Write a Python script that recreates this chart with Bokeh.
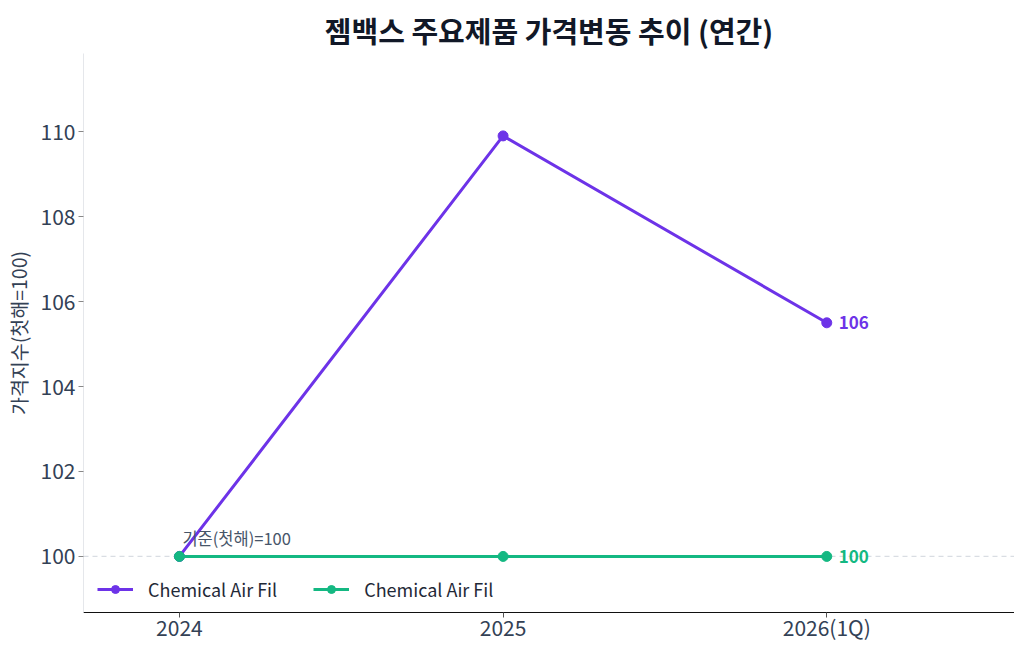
from bokeh.plotting import figure
from bokeh.models import Range1d, FixedTicker, Span, Label, Legend, LegendItem
from bokeh.embed import file_html
from bokeh.resources import INLINE

FONT = "Noto Sans CJK KR"

periods = ["2024", "2025", "2026(1Q)"]
x_pos = [0, 1, 2]
series_a_name = "Chemical Air Fil"
series_a = [100.0, 109.9, 105.5]
series_b_name = "Chemical Air Fil"
series_b = [100.0, 100.0, 100.0]
end_labels = ["106", "100"]
y_ticks = [100, 102, 104, 106, 108, 110]

PURPLE = "#6d33e8"
GREEN = "#14b882"

p = figure(width=1014, height=644, output_backend="svg", toolbar_location=None,
           x_range=Range1d(-0.2963, 2.58), y_range=Range1d(98.68, 111.84),
           min_border_left=82, min_border_right=0, min_border_top=53, min_border_bottom=0)
p.title.text = "젬백스 주요제품 가격변동 추이 (연간)"
p.title.align = "center"
p.title.text_font = FONT
p.title.text_font_size = "29px"
p.title.text_font_style = "bold"
p.title.text_color = "#111827"
p.title.standoff = 5
p.outline_line_color = None
p.background_fill_color = "white"
p.border_fill_color = "white"
p.xgrid.visible = False
p.ygrid.visible = False

p.xaxis.ticker = FixedTicker(ticks=x_pos)
p.xaxis.major_label_overrides = {i: s for i, s in zip(x_pos, periods)}
p.yaxis.ticker = FixedTicker(ticks=y_ticks)
for ax in (p.xaxis, p.yaxis):
    ax.major_label_text_font = FONT
    ax.major_label_text_font_size = "21px"
    ax.major_label_text_color = "#334155"
    ax.minor_tick_line_color = None
    ax.major_tick_in = 0
    ax.major_tick_out = 5
p.yaxis.major_label_standoff = 3
p.xaxis.major_label_standoff = -6
p.xaxis.axis_line_color = "#111111"
p.xaxis.major_tick_line_color = "#555555"
p.yaxis.axis_line_color = "#e5e7eb"
p.yaxis.major_tick_line_color = "#888888"
p.yaxis.axis_label = "가격지수(첫해=100)"
p.yaxis.axis_label_text_font = FONT
p.yaxis.axis_label_text_font_size = "19.5px"
p.yaxis.axis_label_text_font_style = "normal"
p.yaxis.axis_label_text_color = "#334155"
p.yaxis.axis_label_standoff = 5

ref = Span(location=100, dimension="width", line_color="#d9dde3", line_width=1.2,
           line_dash="5 4", level="underlay")
p.add_layout(ref)

la = p.line(x_pos, series_a, line_color=PURPLE, line_width=3)
ca = p.scatter(x_pos, series_a, size=10, fill_color=PURPLE, line_color=PURPLE)
lb = p.line(x_pos, series_b, line_color=GREEN, line_width=3)
cb = p.scatter(x_pos, series_b, size=10, fill_color=GREEN, line_color=GREEN)

for val, txt, col in [(series_a[-1], end_labels[0], PURPLE), (series_b[-1], end_labels[1], GREEN)]:
    p.add_layout(Label(x=x_pos[-1], y=val, x_offset=12, text=txt, text_baseline="middle",
                       text_font=FONT, text_font_size="17px", text_font_style="bold",
                       text_color=col))

p.add_layout(Label(x=x_pos[0], y=100, x_offset=3, y_offset=6, text="기준(첫해)=100",
                   text_baseline="bottom", text_font=FONT, text_font_size="16.5px",
                   text_color="#475569"))

legend = Legend(items=[LegendItem(label=series_a_name, renderers=[la, ca]),
                       LegendItem(label=series_b_name, renderers=[lb, cb])],
                orientation="horizontal", location=(14, 10),
                background_fill_alpha=0, border_line_color=None,
                label_text_font=FONT, label_text_font_size="18px", label_text_color="#1f2937",
                glyph_width=36, label_standoff=15, spacing=36, padding=5, margin=0)
p.add_layout(legend)

open("out.html", "w").write(file_html(p, INLINE))
